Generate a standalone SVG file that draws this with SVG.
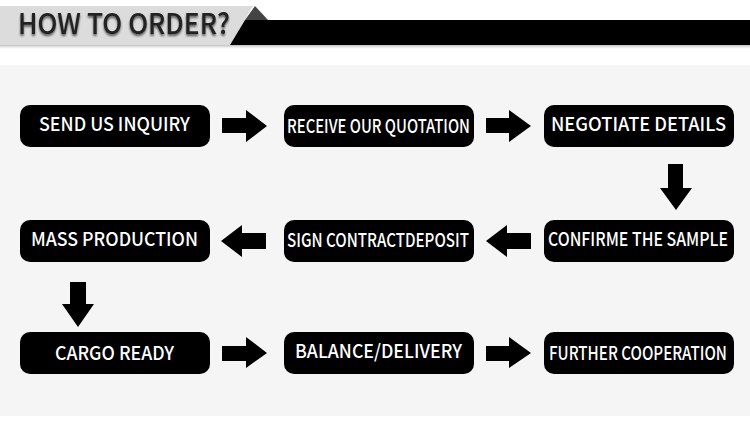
<svg xmlns="http://www.w3.org/2000/svg" width="750" height="442" viewBox="0 0 750 442">
<defs>
<style>
.box{fill:#000}
.lbl{fill:#fff;font-family:"Noto Sans CJK SC","Source Sans Pro","Noto Sans",sans-serif;font-size:19px;font-weight:500}
.arr{fill:#000}
</style>
<linearGradient id="sh" x1="0" y1="0" x2="0" y2="1">
<stop offset="0" stop-color="#bbb"/>
<stop offset="1" stop-color="#fff" stop-opacity="0"/>
</linearGradient>
<filter id="ts" x="-10%" y="-30%" width="120%" height="160%">
<feGaussianBlur in="SourceAlpha" stdDeviation="1.2"/>
<feOffset dx="0" dy="1.5" result="b"/>
<feFlood flood-color="#000" flood-opacity="0.6"/>
<feComposite in2="b" operator="in"/>
<feMerge><feMergeNode/><feMergeNode in="SourceGraphic"/></feMerge>
</filter>
</defs>
<rect width="750" height="442" fill="#fff"/>
<g id="header">
<rect x="0" y="45" width="750" height="5" fill="url(#sh)"/>
<polygon points="0,6 253,6 230,45 0,45" fill="#dcdcdc"/>
<polygon points="255,6 245,20 268,20" fill="#444"/>
<polygon points="245,20 750,20 750,45 230,45" fill="#000"/>
<text x="18" y="34" font-family="Noto Sans CJK SC,Source Sans Pro,Noto Sans,sans-serif" font-size="28" font-weight="500" fill="#222" textLength="212" lengthAdjust="spacingAndGlyphs" filter="url(#ts)">HOW TO ORDER?</text>
</g>
<rect id="panel" x="0" y="65" width="750" height="351" fill="#f5f5f5"/>
<g id="n1"><rect class="box" x="20" y="105" width="190" height="42" rx="10"/><text class="lbl" x="39" y="131" textLength="151" lengthAdjust="spacingAndGlyphs">SEND US INQUIRY</text></g>
<g id="n2"><rect class="box" x="284" y="105" width="190" height="42" rx="10"/><text class="lbl" x="287" y="133" textLength="183" lengthAdjust="spacingAndGlyphs">RECEIVE OUR QUOTATION</text></g>
<g id="n3"><rect class="box" x="544" y="105" width="190" height="42" rx="10"/><text class="lbl" x="551" y="131" textLength="175" lengthAdjust="spacingAndGlyphs">NEGOTIATE DETAILS</text></g>
<g id="n4"><rect class="box" x="544" y="220" width="190" height="42" rx="10"/><text class="lbl" x="548" y="246" textLength="180" lengthAdjust="spacingAndGlyphs">CONFIRME THE SAMPLE</text></g>
<g id="n5"><rect class="box" x="284" y="220" width="190" height="42" rx="10"/><text class="lbl" x="287" y="247" textLength="182" lengthAdjust="spacingAndGlyphs">SIGN CONTRACTDEPOSIT</text></g>
<g id="n6"><rect class="box" x="20" y="220" width="190" height="42" rx="10"/><text class="lbl" x="31" y="246" textLength="167" lengthAdjust="spacingAndGlyphs">MASS PRODUCTION</text></g>
<g id="n7"><rect class="box" x="20" y="332" width="190" height="42" rx="10"/><text class="lbl" x="55" y="360" textLength="119" lengthAdjust="spacingAndGlyphs">CARGO READY</text></g>
<g id="n8"><rect class="box" x="284" y="332" width="190" height="42" rx="10"/><text class="lbl" x="295" y="358" textLength="167" lengthAdjust="spacingAndGlyphs">BALANCE/DELIVERY</text></g>
<g id="n9"><rect class="box" x="544" y="332" width="190" height="42" rx="10"/><text class="lbl" x="549" y="360" textLength="178" lengthAdjust="spacingAndGlyphs">FURTHER COOPERATION</text></g>
<g id="connectors">
<polygon class="arr" points="222,118 246,118 246,110 267,126 246,142 246,133 222,133"/>
<polygon class="arr" points="486,118 509,118 509,110 531,126 509,142 509,133 486,133"/>
<polygon class="arr" points="668,164 683,164 683,188 692,188 676,210 660,188 668,188"/>
<polygon class="arr" points="531,233 507,233 507,225 486,241 507,257 507,249 531,249"/>
<polygon class="arr" points="266,233 242,233 242,225 221,241 242,257 242,249 266,249"/>
<polygon class="arr" points="70,282 86,282 86,304 94,304 78,327 62,304 70,304"/>
<polygon class="arr" points="222,346 246,346 246,337 267,353 246,368 246,361 222,361"/>
<polygon class="arr" points="486,346 509,346 509,337 531,353 509,368 509,361 486,361"/>
</g>
</svg>
